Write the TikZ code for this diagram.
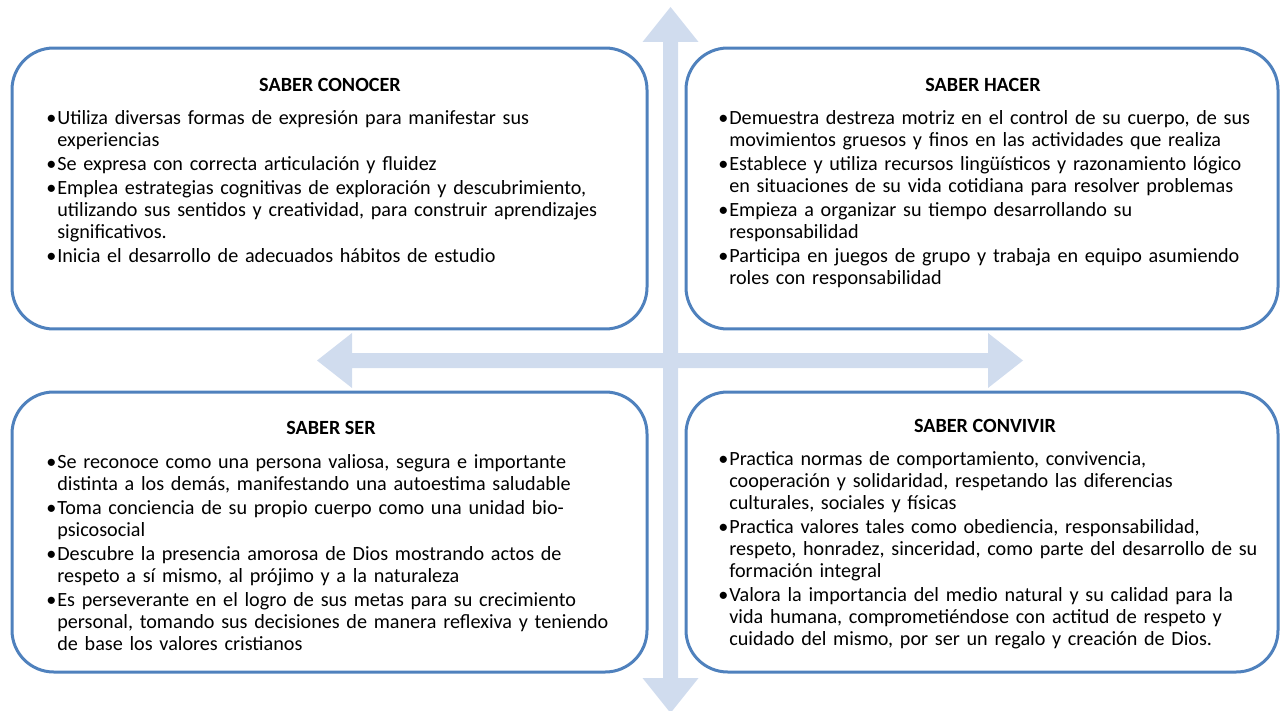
\documentclass[tikz,border=0pt]{standalone}
\usepackage{fontspec}
\setmainfont{Carlito}
\usetikzlibrary{positioning}
\definecolor{flechaazul}{RGB}{208,220,238}
\definecolor{bordeazul}{RGB}{79,129,189}
\newcommand{\punto}[1]{\noindent\hangindent=6.6pt\hangafter=1\strut\makebox[6.6pt][l]{•}#1\par}
\begin{document}
\begin{tikzpicture}[x=0.6pt, y=-0.6pt,
    saberbox/.style={draw=bordeazul, line width=1.8pt, rounded corners=25pt,
        fill=white, inner sep=0pt, outer sep=0pt},
    titulo/.style={font=\fontsize{12.1}{13.2}\selectfont\bfseries},
    lista/.style={anchor=north west, inner sep=0pt,
        font=\fontsize{12.1}{13.2}\selectfont}]
    \useasboundingbox (0,0) rectangle (1281,711);
    % cruz de flechas
    \fill[flechaazul] (663,42) -- (642.5,42) -- (670.5,7) -- (698.5,42) -- (678,42)
        -- (678,678) -- (698.5,678) -- (670.5,713) -- (642.5,678) -- (663,678) -- cycle;
    \fill[flechaazul] (352,353) -- (352,333) -- (317,360.5) -- (352,388) -- (352,368)
        -- (988,368) -- (988,388) -- (1023,360.5) -- (988,333) -- (988,353) -- cycle;
    % cuadros
    \node[saberbox, minimum width=381pt, minimum height=168.6pt] (conocer) at (329.5,188.5) {};
    \node[saberbox, minimum width=355.2pt, minimum height=168.6pt] (hacer) at (982,188.5) {};
    \node[saberbox, minimum width=381pt, minimum height=168pt] (ser) at (329.5,532) {};
    \node[saberbox, minimum width=355.2pt, minimum height=168pt] (convivir) at (982,532) {};
    % titulos
    \node[titulo] (tconocer) at (330,85) {SABER CONOCER};
    \node[titulo] (thacer) at (983,85) {SABER HACER};
    \node[titulo] (tser) at (331,428) {SABER SER};
    \node[titulo] (tconvivir) at (985,426) {SABER CONVIVIR};
    % listas
    \node[lista, text width=370pt] (lconocer) at (46,109) {\setlength{\parskip}{1.2pt}%
        \punto{Utiliza diversas formas de expresión para manifestar sus\newline experiencias}
        \punto{Se expresa con correcta articulación y fluidez}
        \punto{Emplea estrategias cognitivas de exploración y descubrimiento,\newline utilizando sus sentidos y creatividad, para construir aprendizajes\newline significativos.}
        \punto{Inicia el desarrollo de adecuados hábitos de estudio}};
    \node[lista, text width=340pt] (lhacer) at (718,109) {\setlength{\parskip}{1.2pt}%
        \punto{Demuestra destreza motriz en el control de su cuerpo, de sus\newline movimientos gruesos y finos en las actividades que realiza}
        \punto{Establece y utiliza recursos lingüísticos y razonamiento lógico\newline en situaciones de su vida cotidiana para resolver problemas}
        \punto{Empieza a organizar su tiempo desarrollando su\newline responsabilidad}
        \punto{Participa en juegos de grupo y trabaja en equipo asumiendo\newline roles con responsabilidad}};
    \node[lista, text width=370pt] (lser) at (46,453) {\setlength{\parskip}{1.2pt}%
        \punto{Se reconoce como una persona valiosa, segura e importante\newline distinta a los demás, manifestando una autoestima saludable}
        \punto{Toma conciencia de su propio cuerpo como una unidad bio-\newline psicosocial}
        \punto{Descubre la presencia amorosa de Dios mostrando actos de\newline respeto a sí mismo, al prójimo y a la naturaleza}
        \punto{Es perseverante en el logro de sus metas para su crecimiento\newline personal, tomando sus decisiones de manera reflexiva y teniendo\newline de base los valores cristianos}};
    \node[lista, text width=340pt] (lconvivir) at (718,450) {\setlength{\parskip}{1.2pt}%
        \punto{Practica normas de comportamiento, convivencia,\newline cooperación y solidaridad, respetando las diferencias\newline culturales, sociales y físicas}
        \punto{Practica valores tales como obediencia, responsabilidad,\newline respeto, honradez, sinceridad, como parte del desarrollo de su\newline formación integral}
        \punto{Valora la importancia del medio natural y su calidad para la\newline vida humana, comprometiéndose con actitud de respeto y\newline cuidado del mismo, por ser un regalo y creación de Dios.}};
\end{tikzpicture}
\end{document}
